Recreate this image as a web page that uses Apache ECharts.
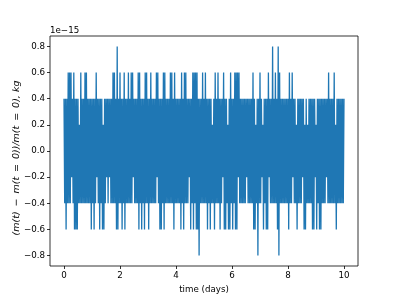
<!DOCTYPE html>
<html>
<head>
<meta charset="utf-8">
<script src="https://cdn.jsdelivr.net/npm/echarts@6/dist/echarts.min.js"></script>
<style>
html,body{margin:0;padding:0;background:#fff;}
#chart{width:399px;height:299px;}
</style>
</head>
<body>
<div id="chart"></div>
<script>
// Sampling step of the time series (days)
const sampleStepDays = 0.025;
// Relative mass change, in units of 1e-15
const massChange = [
 0.4,-0.4,0.4,-0.6,0.4,-0.4,0.6,-0.4,0.6,-0.4,0.6,-0.2,0.4,-0.4,0.6,-0.6,0.4,-0.6,0.4,-0.6,
 0.4,-0.4,0.2,-0.4,0.6,-0.4,0.4,-0.4,0.4,-0.4,0.6,-0.4,0.6,-0.4,0.4,-0.4,0.4,-0.4,0.4,-0.6,
 0.4,-0.4,0.4,-0.6,0.4,-0.4,0.6,-0.2,0.4,-0.4,0.4,-0.6,0.4,-0.4,0.4,-0.6,0.2,-0.6,0.4,-0.4,
 0.4,-0.2,0.4,-0.4,0.4,-0.2,0.4,-0.4,0.4,-0.4,0.6,-0.4,0.6,-0.4,0.4,-0.6,0.8,-0.6,0.4,-0.4,
 0.6,-0.4,0.4,-0.6,0.4,-0.4,0.6,-0.6,0.4,-0.4,0.4,-0.4,0.6,-0.4,0.4,-0.4,0.6,-0.4,0.6,-0.2,
 0.4,-0.4,0.4,-0.4,0.4,-0.4,0.6,-0.6,0.6,-0.4,0.4,-0.6,0.4,-0.4,0.4,-0.6,0.6,-0.4,0.6,-0.4,
 0.4,-0.6,0.4,-0.4,0.6,-0.4,0.4,-0.4,0.4,-0.4,0.4,-0.4,0.6,-0.2,0.6,-0.4,0.4,-0.6,0.4,-0.6,
 0.4,-0.4,0.6,-0.6,0.6,-0.4,0.4,-0.4,0.4,-0.4,0.4,-0.4,0.6,-0.4,0.6,-0.4,0.4,-0.6,0.6,-0.4,
 0.4,-0.4,0.4,-0.4,0.4,-0.4,0.4,-0.6,0.6,-0.4,0.4,-0.6,0.6,-0.4,0.6,-0.4,0.4,-0.4,0.4,-0.2,
 0.4,-0.6,0.4,-0.4,0.6,-0.6,0.6,-0.4,0.6,-0.6,0.6,-0.6,0.4,-0.8,0.4,-0.4,0.4,-0.4,0.6,-0.4,
 0.4,-0.4,0.6,-0.4,0.4,-0.6,0.4,-0.4,0.4,-0.6,0.4,-0.4,0.2,-0.4,0.4,-0.6,0.6,-0.4,0.4,-0.4,
 0.6,-0.4,0.4,-0.6,0.4,-0.4,0.4,-0.2,0.6,-0.6,0.4,-0.6,0.4,-0.4,0.2,-0.6,0.4,-0.6,0.6,-0.4,
 0.4,-0.6,0.4,-0.4,0.6,-0.6,0.6,-0.6,0.6,-0.2,0.6,-0.4,0.4,-0.4,0.4,-0.4,0.4,-0.4,0.4,-0.4,
 0.4,-0.2,0.4,-0.4,0.4,-0.4,0.4,-0.4,0.4,-0.4,0.6,-0.6,0.4,-0.6,0.2,-0.4,0.4,-0.8,0.4,-0.4,
 0.6,-0.4,0.4,-0.2,0.2,-0.6,0.4,-0.4,0.4,-0.6,0.4,-0.6,0.6,-0.2,0.4,-0.4,0.4,-0.4,0.8,-0.4,
 0.4,-0.4,0.6,-0.4,0.4,-0.6,0.8,-0.8,0.6,-0.4,0.4,-0.4,0.4,-0.4,0.4,-0.4,0.4,-0.4,0.4,-0.4,
 0.4,-0.6,0.6,-0.4,0.4,-0.4,0.6,-0.2,0.4,-0.4,0.4,-0.4,0.2,-0.6,0.4,-0.4,0.4,-0.4,0.4,-0.4,
 0.4,-0.2,0.4,-0.6,0.2,-0.6,0.4,-0.4,0.2,-0.4,0.4,-0.4,0.4,-0.4,0.4,-0.6,0.4,-0.6,0.4,-0.2,
 0.2,-0.6,0.4,-0.4,0.4,-0.6,0.4,-0.6,0.4,-0.4,0.4,-0.4,0.4,-0.4,0.4,-0.2,0.4,-0.4,0.6,-0.4,
 0.4,-0.4,0.4,-0.4,0.4,-0.4,0.6,-0.4,0.2,-0.6,0.4,-0.4,0.4,-0.4,0.4,-0.4,0.4,-0.4,0.4,-0.4,
 0.4
];
const xTicks = [0, 2, 4, 6, 8, 10];
const yTicks = [-0.8, -0.6, -0.4, -0.2, 0.0, 0.2, 0.4, 0.6, 0.8];
const xName = 'time (days)';
const yName = '(m(t) \u2009−\u2009 m(t \u2009=\u2009 0))/m(t \u2009=\u2009 0), kg';
const offsetText = '1e−15';

const seriesData = massChange.map((v, i) => [i * sampleStepDays, v]);
const fmt = v => (v < 0 ? '−' : '') + Math.abs(v).toFixed(1);
const font = 'DejaVu Sans';

const chart = echarts.init(document.getElementById('chart'), null, {renderer: 'canvas'});
chart.setOption({
  animation: false,
  backgroundColor: '#fff',
  grid: {left: 50, top: 36, width: 308, height: 230, show: true, borderColor: '#000', borderWidth: 0.8,
         backgroundColor: 'transparent', containLabel: false, outerBoundsMode: 'none'},
  xAxis: {
    type: 'value', min: -0.5, max: 10.5,
    axisLine: {show: false, onZero: false},
    splitLine: {show: false},
    axisTick: {show: true, inside: false, length: 3, lineStyle: {color: '#000', width: 0.8}, customValues: xTicks},
    axisLabel: {customValues: xTicks, color: '#000', fontFamily: font, fontSize: 8.7, margin: 5, formatter: v => String(v)},
    name: xName, nameLocation: 'middle', nameGap: 19,
    nameTextStyle: {color: '#000', fontFamily: font, fontSize: 8.7}
  },
  yAxis: {
    type: 'value', min: -0.88, max: 0.88,
    axisLine: {show: false, onZero: false},
    splitLine: {show: false},
    axisTick: {show: true, inside: false, length: 3, lineStyle: {color: '#000', width: 0.8}, customValues: yTicks},
    axisLabel: {customValues: yTicks, color: '#000', fontFamily: font, fontSize: 8.7, margin: 5, formatter: fmt}
  },
  graphic: [{
    type: 'text', left: 50, top: 26,
    style: {text: offsetText, fill: '#000', font: '8.7px "DejaVu Sans"'}
  }, {
    type: 'text', x: 17, y: 158, rotation: Math.PI / 2,
    style: {text: yName, fill: '#000', font: 'italic 9.5px "DejaVu Sans"', align: 'center', verticalAlign: 'middle'}
  }],
  series: [{
    type: 'line', data: seriesData, showSymbol: false, symbol: 'none',
    lineStyle: {color: '#1f77b4', width: 1.3}, clip: true
  }]
});
</script>
</body>
</html>
